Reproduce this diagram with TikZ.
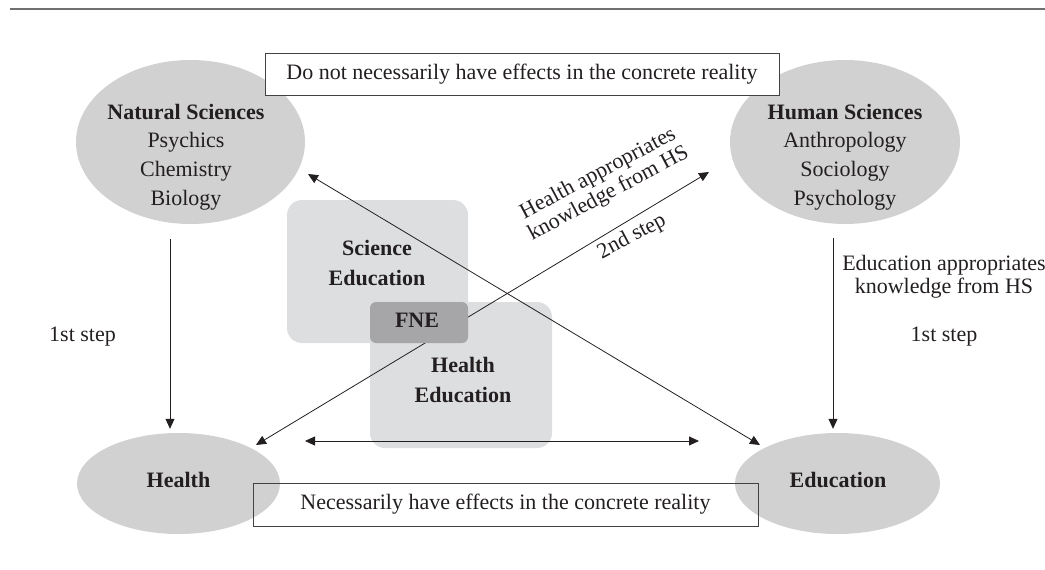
\documentclass[tikz,border=0pt]{standalone}
\usepackage{fontspec}
\setmainfont{Liberation Serif}
\usetikzlibrary{shapes.geometric,arrows.meta}

\definecolor{ink}{RGB}{35,31,32}
\definecolor{rulegray}{RGB}{112,112,112}
\definecolor{ellgray}{RGB}{209,209,210}
\definecolor{boxgray}{RGB}{221,222,224}
\definecolor{fnegray}{RGB}{166,166,168}

\begin{document}
\begin{tikzpicture}[x=1pt,y=-1pt,
  every node/.style={text=ink, font=\fontsize{22}{28.7}\selectfont},
  blob/.style={ellipse, fill=ellgray, draw=none, inner sep=0pt},
  framebox/.style={rectangle, draw=ink!85, line width=0.9pt, inner sep=0pt},
  fieldbox/.style={rectangle, fill=boxgray, draw=none, rounded corners=15pt, inner sep=0pt},
  tip/.style={Triangle[length=10pt,width=9pt]},
  arr/.style={draw=ink, line width=0.8pt, -{Triangle[length=10pt,width=9pt]}},
  dblarr/.style={draw=ink, line width=0.8pt, {Triangle[length=10pt,width=9pt]}-{Triangle[length=10pt,width=9pt]}},
  lbl/.style={align=center, inner sep=0pt},
  tightlbl/.style={align=center, inner sep=0pt, font=\fontsize{22}{22.5}\selectfont},
]
\useasboundingbox (0,0) rectangle (1045,570);

% rule across the top
\coordinate (ruleL) at (10,9);
\coordinate (ruleR) at (1045,9);
\draw[rulegray, line width=2pt] (ruleL) -- (ruleR);

% knowledge fields (ellipses)
\node[blob, minimum width=229, minimum height=164] (ns) at (190.5,142) {};
\node[blob, minimum width=230, minimum height=164] (hs) at (845,142) {};
\node[blob, minimum width=203, minimum height=101] (health) at (178.5,483.5) {};
\node[blob, minimum width=205, minimum height=101] (edu) at (837.5,483.5) {};

% framed statements
\node[framebox, fill=white, minimum width=514, minimum height=42] (topNote) at (522,74)
  {Do not necessarily have effects in the concrete reality};
\node[framebox, minimum width=505, minimum height=43] (bottomNote) at (505.5,504.5)
  {Necessarily have effects in the concrete reality};

% overlapping education fields
\node[fieldbox, minimum width=181, minimum height=143] (sciBox) at (377.5,271.5) {};
\node[fieldbox, minimum width=182, minimum height=146] (hlthBox) at (461,375) {};

% arrow end points
\coordinate (nsTip) at (308,174);
\coordinate (eduTip) at (760,445);
\coordinate (healthTip) at (256,445);
\coordinate (hsTip) at (709,172);
\coordinate (fneCross) at (440,334);
\coordinate (nsFoot) at (170,239);
\coordinate (hsFoot) at (833,238);
\coordinate (midL) at (305,441);
\coordinate (midR) at (699,441);

% connectors
\draw[arr, shorten >=4pt] (nsFoot) -- (nsFoot |- health.north);
\draw[arr, shorten >=4pt] (hsFoot) -- (hsFoot |- edu.north);
\draw[dblarr] (nsTip) -- (eduTip);
\draw[arr] (fneCross) -- (hsTip);
\draw[arr] (fneCross) -- (healthTip);
\draw[dblarr] (midL) -- (midR);

% shared area of the two education fields
\node[rectangle, fill=fnegray, rounded corners=6pt, inner sep=0pt,
      minimum width=98, minimum height=41] (fne) at (419,322.5) {};

% texts
\node[lbl] (nsText) at (186,157)
  {\textbf{Natural Sciences}\\Psychics\\Chemistry\\Biology};
\node[lbl] (hsText) at (845,157)
  {\textbf{Human Sciences}\\Anthropology\\Sociology\\Psychology};
\node[lbl, font=\bfseries\fontsize{22}{30}\selectfont] (healthText) at (178.5,480) {Health};
\node[lbl, font=\bfseries\fontsize{22}{30}\selectfont] (eduText) at (838,480) {Education};
\node[lbl, font=\bfseries\fontsize{22}{30}\selectfont] (sciText) at (377,262.5) {Science\\Education};
\node[lbl, font=\bfseries\fontsize{22}{30}\selectfont] (hlthText) at (463,379.5) {Health\\Education};
\node[lbl, font=\bfseries\fontsize{22}{30}\selectfont] (fneText) at (417,320) {FNE};

\node[lbl] (stepL) at (82.5,337) {1st step};
\node[lbl] (stepR) at (944,337) {1st step};
\node[tightlbl, font=\fontsize{22}{23}\selectfont] (eduLbl) at (944,277)
  {Education appropriates\\knowledge from HS};
\node[tightlbl, rotate=28] (hlthLbl) at (603.5,184)
  {Health appropriates\\knowledge from HS};
\node[lbl, rotate=28] (step2) at (632,237) {2nd step};
\end{tikzpicture}
\end{document}
